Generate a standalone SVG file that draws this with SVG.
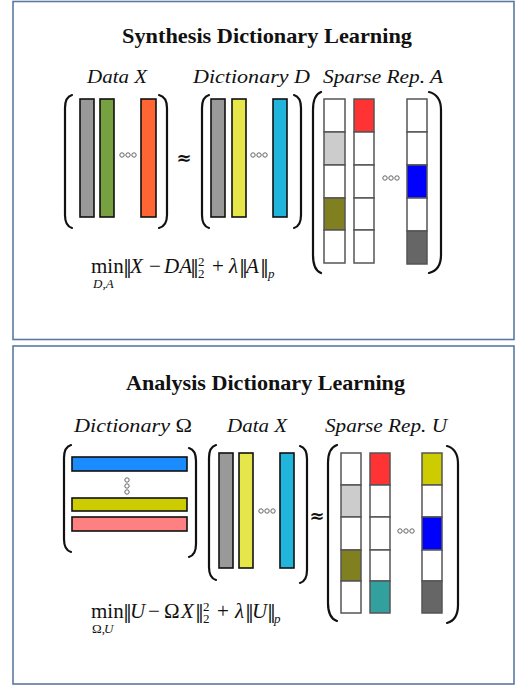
<svg xmlns="http://www.w3.org/2000/svg" width="518" height="686" viewBox="0 0 518 686">
<style>
.frame{fill:#fff;stroke:#5a7aa0;stroke-width:1.6}
.title{font-family:"Liberation Serif",serif;font-weight:bold;font-size:21px;fill:#111}
.lab{font-family:"Liberation Serif",serif;font-style:italic;font-size:19px;fill:#111}
.f{font-family:"Liberation Serif",serif;font-size:21px;fill:#111}
.nm{font-family:"DejaVu Serif",serif;font-size:18px}
.it{font-style:italic}
.sm{font-size:13px}
.paren{fill:none;stroke:#111;stroke-width:2.2;stroke-linecap:round}
.bar{stroke:#111;stroke-width:1.6}
.cell{stroke:#555;stroke-width:1.5}
.dot{fill:none;stroke:#666;stroke-width:1}
.approx{font-family:"DejaVu Sans",sans-serif;font-size:18px;font-weight:bold;fill:#111}
</style>

<rect class="frame" x="13" y="1.5" width="501" height="338"/>
<rect class="frame" x="13" y="346" width="501" height="338"/>

<!-- ========== Synthesis ========== -->
<g id="title-synthesis"><text class="title" x="122" y="43" textLength="290" lengthAdjust="spacingAndGlyphs">Synthesis Dictionary Learning</text></g>

<g id="data-x-top">
<text class="lab" x="87" y="83" textLength="60" lengthAdjust="spacingAndGlyphs">Data X</text>
<path class="paren" d="M72,95 Q65,97 65,108 L65,215 Q65,226 72,228"/>
<path class="paren" d="M159,95 Q167,97 167,108 L167,215 Q167,226 159,228"/>
<rect class="bar" x="80" y="99" width="14" height="118" fill="#999999"/>
<rect class="bar" x="100" y="99" width="14" height="118" fill="#77a040"/>
<rect class="bar" x="141" y="99" width="15" height="118" fill="#ff6633"/>
<circle class="dot" cx="122" cy="155" r="2.2"/><circle class="dot" cx="128" cy="155" r="2.2"/><circle class="dot" cx="134" cy="155" r="2.2"/>
</g>

<g id="approx-top"><text class="approx" x="184" y="164" text-anchor="middle">≈</text></g>

<g id="dictionary-d">
<text class="lab" x="193" y="83" textLength="117" lengthAdjust="spacingAndGlyphs">Dictionary D</text>
<path class="paren" d="M209,95 Q202,97 202,108 L202,215 Q202,226 209,228"/>
<path class="paren" d="M294,95 Q301,97 301,108 L301,215 Q301,226 294,228"/>
<rect class="bar" x="211" y="99" width="14" height="118" fill="#999999"/>
<rect class="bar" x="232" y="99" width="14" height="118" fill="#e6e64a"/>
<rect class="bar" x="273" y="99" width="14" height="118" fill="#22b5dc"/>
<circle class="dot" cx="253" cy="155" r="2.2"/><circle class="dot" cx="259" cy="155" r="2.2"/><circle class="dot" cx="265" cy="155" r="2.2"/>
</g>

<g id="sparse-a">
<text class="lab" x="323" y="83" textLength="120" lengthAdjust="spacingAndGlyphs">Sparse Rep. A</text>
<path class="paren" d="M321,92 Q313,95 313,110 L313,255 Q313,270 321,273"/>
<path class="paren" d="M429,92 Q441,95 441,110 L441,255 Q441,270 429,273"/>
<rect class="cell" x="324" y="99" width="21" height="33" fill="#fff"/>
<rect class="cell" x="324" y="132" width="21" height="33" fill="#cccccc"/>
<rect class="cell" x="324" y="165" width="21" height="33" fill="#fff"/>
<rect class="cell" x="324" y="198" width="21" height="32" fill="#808020"/>
<rect class="cell" x="324" y="230" width="21" height="33" fill="#fff"/>
<rect class="cell" x="354" y="99" width="20" height="33" fill="#ff3333"/>
<rect class="cell" x="354" y="132" width="20" height="33" fill="#fff"/>
<rect class="cell" x="354" y="165" width="20" height="33" fill="#fff"/>
<rect class="cell" x="354" y="198" width="20" height="32" fill="#fff"/>
<rect class="cell" x="354" y="230" width="20" height="33" fill="#fff"/>
<rect class="cell" x="407" y="99" width="20" height="33" fill="#fff"/>
<rect class="cell" x="407" y="132" width="20" height="33" fill="#fff"/>
<rect class="cell" x="407" y="165" width="20" height="33" fill="#0000ff"/>
<rect class="cell" x="407" y="198" width="20" height="33" fill="#fff"/>
<rect class="cell" x="407" y="231" width="20" height="33" fill="#666666"/>
<circle class="dot" cx="385" cy="178" r="2.2"/><circle class="dot" cx="391" cy="178" r="2.2"/><circle class="dot" cx="397" cy="178" r="2.2"/>
</g>

<g id="formula-synthesis">
<text class="f"><tspan x="91" y="273">min</tspan><tspan class="sm it" x="93" y="288">D,A</tspan><tspan class="nm" x="123" y="273">‖</tspan><tspan class="it" x="130" y="273">X</tspan><tspan x="149" y="273">−</tspan><tspan class="it" x="164" y="273">DA</tspan><tspan class="nm" x="190" y="273">‖</tspan><tspan class="sm" x="198" y="266">2</tspan><tspan class="sm" x="198" y="278">2</tspan><tspan x="212" y="273">+</tspan><tspan class="it" x="229" y="273">λ</tspan><tspan class="nm" x="239" y="273">‖</tspan><tspan class="it" x="246" y="273">A</tspan><tspan class="nm" x="260" y="273">‖</tspan><tspan class="sm it" x="268" y="278" font-size="15">p</tspan></text>
</g>

<!-- ========== Analysis ========== -->
<g id="title-analysis"><text class="title" x="126" y="390" textLength="279" lengthAdjust="spacingAndGlyphs">Analysis Dictionary Learning</text></g>

<g id="dictionary-omega">
<text class="lab" x="74" y="432" textLength="118" lengthAdjust="spacingAndGlyphs">Dictionary <tspan font-style="normal">Ω</tspan></text>
<path class="paren" d="M71,445 Q64,447 64,458 L64,539 Q64,550 71,552"/>
<path class="paren" d="M189,448 Q196,450 196,461 L196,544 Q196,555 189,557"/>
<rect class="bar" x="72" y="457" width="115" height="14" fill="#1a8cff"/>
<rect class="bar" x="72" y="498" width="115" height="13" fill="#cccc00"/>
<rect class="bar" x="72" y="517" width="115" height="14" fill="#ff8080"/>
<circle class="dot" cx="127" cy="480" r="2.2"/><circle class="dot" cx="127" cy="486" r="2.2"/><circle class="dot" cx="127" cy="492" r="2.2"/>
</g>

<g id="data-x-bottom">
<text class="lab" x="227" y="432" textLength="60" lengthAdjust="spacingAndGlyphs">Data X</text>
<path class="paren" d="M216,445 Q209,447 209,458 L209,567 Q209,578 216,580"/>
<path class="paren" d="M300,446 Q307,448 307,459 L307,570 Q307,581 300,583"/>
<rect class="bar" x="219" y="453" width="14" height="115" fill="#999999"/>
<rect class="bar" x="239" y="453" width="14" height="115" fill="#e6e64a"/>
<rect class="bar" x="280" y="453" width="14" height="115" fill="#22b5dc"/>
<circle class="dot" cx="261" cy="511" r="2.2"/><circle class="dot" cx="267" cy="511" r="2.2"/><circle class="dot" cx="273" cy="511" r="2.2"/>
</g>

<g id="approx-bottom"><text class="approx" x="317" y="522" text-anchor="middle">≈</text></g>

<g id="sparse-u">
<text class="lab" x="325" y="432" textLength="122" lengthAdjust="spacingAndGlyphs">Sparse Rep. U</text>
<path class="paren" d="M337,445 Q328,448 328,463 L328,603 Q328,618 337,621"/>
<path class="paren" d="M447,446 Q458,449 458,464 L458,605 Q458,620 447,623"/>
<rect class="cell" x="341" y="453" width="20" height="32" fill="#fff"/>
<rect class="cell" x="341" y="485" width="20" height="32" fill="#cccccc"/>
<rect class="cell" x="341" y="517" width="20" height="33" fill="#fff"/>
<rect class="cell" x="341" y="550" width="20" height="31" fill="#808020"/>
<rect class="cell" x="341" y="581" width="20" height="32" fill="#fff"/>
<rect class="cell" x="370" y="453" width="20" height="32" fill="#ff3333"/>
<rect class="cell" x="370" y="485" width="20" height="32" fill="#fff"/>
<rect class="cell" x="370" y="517" width="20" height="33" fill="#fff"/>
<rect class="cell" x="370" y="550" width="20" height="31" fill="#fff"/>
<rect class="cell" x="370" y="581" width="20" height="32" fill="#33a0a0"/>
<rect class="cell" x="422" y="453" width="20" height="32" fill="#cccc00"/>
<rect class="cell" x="422" y="485" width="20" height="32" fill="#fff"/>
<rect class="cell" x="422" y="517" width="20" height="33" fill="#0000ff"/>
<rect class="cell" x="422" y="550" width="20" height="31" fill="#fff"/>
<rect class="cell" x="422" y="581" width="20" height="32" fill="#666666"/>
<circle class="dot" cx="400" cy="531" r="2.2"/><circle class="dot" cx="406" cy="531" r="2.2"/><circle class="dot" cx="412" cy="531" r="2.2"/>
</g>

<g id="formula-analysis">
<text class="f"><tspan x="91" y="618">min</tspan><tspan class="sm" x="92" y="633">Ω,</tspan><tspan class="sm it" x="104" y="633">U</tspan><tspan class="nm" x="123" y="618">‖</tspan><tspan class="it" x="130" y="618">U</tspan><tspan x="148" y="618">−</tspan><tspan x="164" y="618">Ω</tspan><tspan class="it" x="181" y="618">X</tspan><tspan class="nm" x="195" y="618">‖</tspan><tspan class="sm" x="203" y="611">2</tspan><tspan class="sm" x="203" y="623">2</tspan><tspan x="217" y="618">+</tspan><tspan class="it" x="235" y="618">λ</tspan><tspan class="nm" x="245" y="618">‖</tspan><tspan class="it" x="252" y="618">U</tspan><tspan class="nm" x="267" y="618">‖</tspan><tspan class="sm it" x="274" y="623" font-size="15">p</tspan></text>
</g>
</svg>
